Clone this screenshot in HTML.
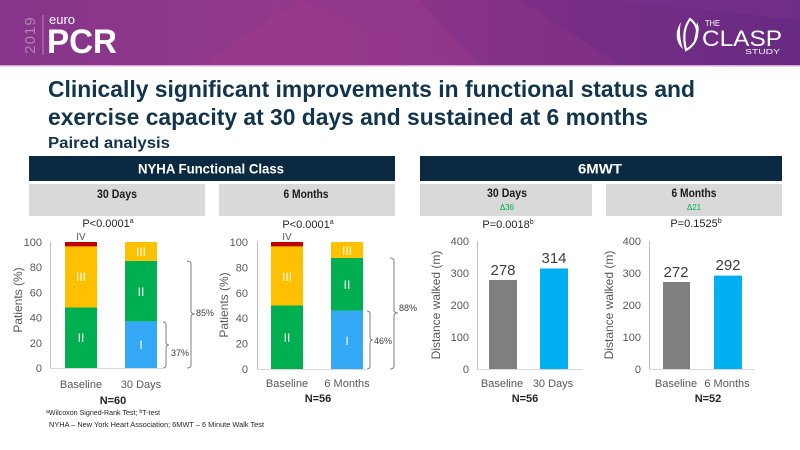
<!DOCTYPE html>
<html>
<head>
<meta charset="utf-8">
<style>
  html,body{margin:0;padding:0;background:#fff;}
  svg{display:block;}
  text{font-family:"Liberation Sans",sans-serif;}
</style>
</head>
<body>
<svg width="800" height="450" viewBox="0 0 800 450" xmlns="http://www.w3.org/2000/svg">
  <defs>
    <linearGradient id="hdr" x1="0" y1="0" x2="1" y2="0">
      <stop offset="0" stop-color="#85358a"/>
      <stop offset="0.35" stop-color="#93388b"/>
      <stop offset="0.65" stop-color="#7d2e86"/>
      <stop offset="1" stop-color="#672a82"/>
    </linearGradient>
  </defs>

  <!-- Header -->
  <rect x="0" y="0" width="800" height="65" fill="url(#hdr)"/>
  <polygon points="200,65 300,0 420,0 480,65" fill="#9c3b8b" opacity="0.55"/>
  <polygon points="300,0 520,0 620,65 470,65" fill="#8f3689" opacity="0.35"/>
  <polygon points="610,0 800,0 800,20" fill="#7a3490" opacity="0.4"/>
  <rect x="0" y="65" width="800" height="1.5" fill="#d8a8d4"/>

  <!-- euroPCR logo -->
  <text transform="translate(35,35) rotate(-90)" text-anchor="middle" font-size="15" fill="#b880b8" letter-spacing="1">2019</text>
  <rect x="42.5" y="15" width="1" height="40" fill="#b880b8"/>
  <text x="49" y="24" font-size="13" fill="#ffffff">euro</text>
  <text x="47" y="53" font-size="34" font-weight="bold" fill="#ffffff" textLength="70" lengthAdjust="spacingAndGlyphs">PCR</text>

  <!-- CLASP logo -->
  <path d="M681,22 C675,31 675,42 683,49 C680,40 679,30 681,22 Z" fill="#ffffff"/>
  <path d="M690,19 C701,27 699,43 686,50 C683,38 684,27 690,19 Z" fill="none" stroke="#ffffff" stroke-width="2.2"/>
  <path d="M697,22 C700,28 699,36 694,40 C696,34 696,28 697,22 Z" fill="#ffffff"/>
  <text x="705" y="26" font-size="8" fill="#ffffff" textLength="15" lengthAdjust="spacingAndGlyphs">THE</text>
  <text x="702" y="46" font-size="22" fill="#ffffff" textLength="80" lengthAdjust="spacingAndGlyphs">CLASP</text>
  <text x="745" y="54" font-size="7" fill="#ffffff" textLength="35" lengthAdjust="spacingAndGlyphs">STUDY</text>

  <!-- Title -->
  <text x="48" y="97" font-size="23" font-weight="bold" fill="#12344d" textLength="647" lengthAdjust="spacingAndGlyphs">Clinically significant improvements in functional status and</text>
  <text x="48" y="125" font-size="23" font-weight="bold" fill="#12344d" textLength="600" lengthAdjust="spacingAndGlyphs">exercise capacity at 30 days and sustained at 6 months</text>
  <text x="48" y="148" font-size="16" font-weight="bold" fill="#12344d" textLength="122" lengthAdjust="spacingAndGlyphs">Paired analysis</text>

  <!-- Banners -->
  <rect x="29" y="156" width="366" height="25" fill="#0b2a42"/>
  <text x="211" y="173.5" text-anchor="middle" font-size="14" font-weight="bold" fill="#ffffff" textLength="146" lengthAdjust="spacingAndGlyphs">NYHA Functional Class</text>
  <rect x="420" y="156" width="362" height="25" fill="#0b2a42"/>
  <text x="600" y="173.5" text-anchor="middle" font-size="14" font-weight="bold" fill="#ffffff" textLength="44" lengthAdjust="spacingAndGlyphs">6MWT</text>

  <!-- Gray boxes -->
  <rect x="29" y="184" width="176" height="32" fill="#d9d9d9"/>
  <rect x="219" y="184" width="176" height="32" fill="#d9d9d9"/>
  <rect x="420" y="184" width="172" height="32" fill="#d9d9d9"/>
  <rect x="606" y="184" width="176" height="32" fill="#d9d9d9"/>
  <text x="117" y="198" text-anchor="middle" font-size="12" font-weight="bold" fill="#1a1a1a" textLength="40" lengthAdjust="spacingAndGlyphs">30 Days</text>
  <text x="306" y="198" text-anchor="middle" font-size="12" font-weight="bold" fill="#1a1a1a" textLength="45" lengthAdjust="spacingAndGlyphs">6 Months</text>
  <text x="507" y="197" text-anchor="middle" font-size="12" font-weight="bold" fill="#1a1a1a" textLength="40" lengthAdjust="spacingAndGlyphs">30 Days</text>
  <text x="507" y="210" text-anchor="middle" font-size="8" fill="#00b050">Δ36</text>
  <text x="694" y="197" text-anchor="middle" font-size="12" font-weight="bold" fill="#1a1a1a" textLength="45" lengthAdjust="spacingAndGlyphs">6 Months</text>
  <text x="694" y="210" text-anchor="middle" font-size="8" fill="#00b050">Δ21</text>

  <!-- P values -->
  <text x="108" y="227" text-anchor="middle" font-size="11" fill="#262626">P&lt;0.0001<tspan font-size="7" dy="-4">a</tspan></text>
  <text x="308" y="228" text-anchor="middle" font-size="11" fill="#262626">P&lt;0.0001<tspan font-size="7" dy="-4">a</tspan></text>
  <text x="508" y="228" text-anchor="middle" font-size="11" fill="#262626">P=0.0018<tspan font-size="7" dy="-4">b</tspan></text>
  <text x="696" y="227" text-anchor="middle" font-size="11" fill="#262626">P=0.1525<tspan font-size="7" dy="-4">b</tspan></text>

  <!-- ===== Chart 1 ===== -->
  <g font-size="11" fill="#595959" text-anchor="end">
    <text x="42" y="372">0</text>
    <text x="42" y="346.8">20</text>
    <text x="42" y="321.6">40</text>
    <text x="42" y="296.4">60</text>
    <text x="42" y="271.2">80</text>
    <text x="42" y="246">100</text>
  </g>
  <line x1="50.5" y1="242" x2="50.5" y2="368" stroke="#bfbfbf"/>
  <line x1="50" y1="368.5" x2="163" y2="368.5" stroke="#d9d9d9"/>
  <text transform="translate(22,300) rotate(-90)" text-anchor="middle" font-size="12" fill="#595959">Patients (%)</text>
  <rect x="65" y="307.5" width="32" height="60.5" fill="#00b050"/>
  <rect x="65" y="246.4" width="32" height="61.1" fill="#ffc000"/>
  <rect x="65" y="242" width="32" height="4.4" fill="#c00000"/>
  <rect x="125" y="321.4" width="32" height="46.6" fill="#35a8f5"/>
  <rect x="125" y="260.9" width="32" height="60.5" fill="#00b050"/>
  <rect x="125" y="242" width="32" height="18.9" fill="#ffc000"/>
  <g font-size="12" fill="#ffffff" text-anchor="middle">
    <text x="81" y="342">II</text>
    <text x="81" y="281">III</text>
    <text x="141" y="349">I</text>
    <text x="141" y="296">II</text>
    <text x="141" y="256">III</text>
  </g>
  <text x="81" y="240" text-anchor="middle" font-size="10" fill="#595959">IV</text>
  <path d="M163,322 Q166,322 166,325 L166,342 Q166,345 169,345 Q166,345 166,348 L166,365 Q166,368 163,368" fill="none" stroke="#7f7f7f"/>
  <text x="171" y="356" font-size="9" fill="#404040">37%</text>
  <path d="M187,261 Q191,261 191,264 L191,311 Q191,314 195,314 Q191,314 191,317 L191,365 Q191,368 187,368" fill="none" stroke="#7f7f7f"/>
  <text x="196" y="316" font-size="9" fill="#404040">85%</text>
  <text x="81" y="388" text-anchor="middle" font-size="11" fill="#595959">Baseline</text>
  <text x="141" y="388" text-anchor="middle" font-size="11" fill="#595959">30 Days</text>
  <text x="113" y="404" text-anchor="middle" font-size="11" font-weight="bold" fill="#262626">N=60</text>

  <!-- ===== Chart 2 ===== -->
  <g font-size="11" fill="#595959" text-anchor="end">
    <text x="248" y="373">0</text>
    <text x="248" y="347.6">20</text>
    <text x="248" y="322.2">40</text>
    <text x="248" y="296.8">60</text>
    <text x="248" y="271.4">80</text>
    <text x="248" y="246">100</text>
  </g>
  <line x1="257.5" y1="242" x2="257.5" y2="369" stroke="#bfbfbf"/>
  <line x1="257" y1="369.5" x2="366" y2="369.5" stroke="#d9d9d9"/>
  <text transform="translate(228,305) rotate(-90)" text-anchor="middle" font-size="12" fill="#595959">Patients (%)</text>
  <rect x="271" y="305.5" width="32" height="63.5" fill="#00b050"/>
  <rect x="271" y="246.4" width="32" height="59.1" fill="#ffc000"/>
  <rect x="271" y="242" width="32" height="4.4" fill="#c00000"/>
  <rect x="331" y="310.6" width="32" height="58.4" fill="#35a8f5"/>
  <rect x="331" y="258" width="32" height="52.6" fill="#00b050"/>
  <rect x="331" y="242" width="32" height="16" fill="#ffc000"/>
  <g font-size="12" fill="#ffffff" text-anchor="middle">
    <text x="287" y="342">II</text>
    <text x="287" y="281">III</text>
    <text x="347" y="345">I</text>
    <text x="347" y="289">II</text>
    <text x="347" y="255">III</text>
  </g>
  <text x="287" y="240" text-anchor="middle" font-size="10" fill="#595959">IV</text>
  <path d="M367,311 Q370,311 370,314 L370,337 Q370,340 373,340 Q370,340 370,343 L370,366 Q370,369 367,369" fill="none" stroke="#7f7f7f"/>
  <text x="374" y="344" font-size="9" fill="#404040">46%</text>
  <path d="M390,258 Q394,258 394,261 L394,310 Q394,313 398,313 Q394,313 394,316 L394,366 Q394,369 390,369" fill="none" stroke="#7f7f7f"/>
  <text x="399" y="311" font-size="9" fill="#404040">88%</text>
  <text x="287" y="387" text-anchor="middle" font-size="11" fill="#595959">Baseline</text>
  <text x="347" y="387" text-anchor="middle" font-size="11" fill="#595959">6 Months</text>
  <text x="318" y="402" text-anchor="middle" font-size="11" font-weight="bold" fill="#262626">N=56</text>

  <!-- ===== Chart 3 ===== -->
  <g font-size="11" fill="#595959" text-anchor="end">
    <text x="469" y="373">0</text>
    <text x="469" y="341">100</text>
    <text x="469" y="309">200</text>
    <text x="469" y="277">300</text>
    <text x="469" y="245">400</text>
  </g>
  <line x1="477.5" y1="241" x2="477.5" y2="369" stroke="#bfbfbf"/>
  <line x1="477" y1="369.5" x2="582" y2="369.5" stroke="#d9d9d9"/>
  <text transform="translate(440,305) rotate(-90)" text-anchor="middle" font-size="12" fill="#595959">Distance walked (m)</text>
  <rect x="489" y="280" width="28" height="89" fill="#7f7f7f"/>
  <rect x="540" y="268.5" width="28" height="100.5" fill="#00b0f0"/>
  <text x="503" y="275" text-anchor="middle" font-size="15" fill="#404040">278</text>
  <text x="554" y="263" text-anchor="middle" font-size="15" fill="#404040">314</text>
  <text x="502" y="387" text-anchor="middle" font-size="11" fill="#595959">Baseline</text>
  <text x="553" y="387" text-anchor="middle" font-size="11" fill="#595959">30 Days</text>
  <text x="525" y="402" text-anchor="middle" font-size="11" font-weight="bold" fill="#262626">N=56</text>

  <!-- ===== Chart 4 ===== -->
  <g font-size="11" fill="#595959" text-anchor="end">
    <text x="641" y="373">0</text>
    <text x="641" y="341">100</text>
    <text x="641" y="309">200</text>
    <text x="641" y="277">300</text>
    <text x="641" y="245">400</text>
  </g>
  <line x1="649.5" y1="241" x2="649.5" y2="369" stroke="#bfbfbf"/>
  <line x1="649" y1="369.5" x2="754" y2="369.5" stroke="#d9d9d9"/>
  <text transform="translate(613,305) rotate(-90)" text-anchor="middle" font-size="12" fill="#595959">Distance walked (m)</text>
  <rect x="663" y="282" width="27" height="87" fill="#7f7f7f"/>
  <rect x="714" y="275.6" width="28" height="93.4" fill="#00b0f0"/>
  <text x="676" y="277" text-anchor="middle" font-size="15" fill="#404040">272</text>
  <text x="728" y="270" text-anchor="middle" font-size="15" fill="#404040">292</text>
  <text x="676" y="387" text-anchor="middle" font-size="11" fill="#595959">Baseline</text>
  <text x="727" y="387" text-anchor="middle" font-size="11" fill="#595959">6 Months</text>
  <text x="708" y="402" text-anchor="middle" font-size="11" font-weight="bold" fill="#262626">N=52</text>

  <!-- Footnotes -->
  <text x="46" y="415" font-size="7" fill="#262626" textLength="114" lengthAdjust="spacingAndGlyphs"><tspan font-size="5" dy="-2">a</tspan><tspan dy="2">Wilcoxon Signed-Rank Test; </tspan><tspan font-size="5" dy="-2">b</tspan><tspan dy="2">T-test</tspan></text>
  <text x="49" y="427" font-size="7" fill="#262626" textLength="215" lengthAdjust="spacingAndGlyphs">NYHA – New York Heart Association; 6MWT – 6 Minute Walk Test</text>
</svg>
</body>
</html>
